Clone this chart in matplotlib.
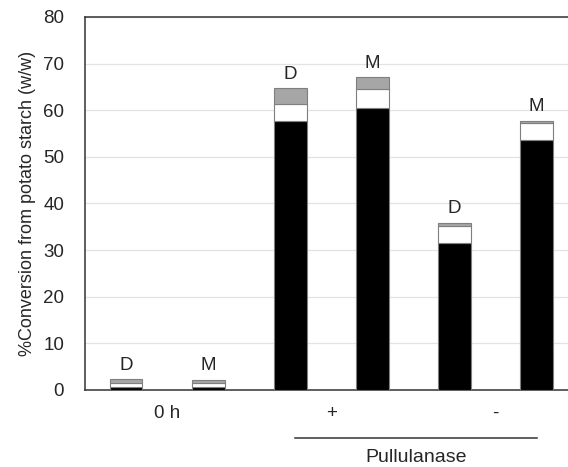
import matplotlib.pyplot as plt
import numpy as np
from matplotlib.transforms import blended_transform_factory

plt.rcParams["font.family"] = ["Liberation Sans", "DejaVu Sans"]

bar_labels = ["D", "M", "D", "M", "D", "M"]
group_labels = ["0 h", "+", "-"]
black_part = [0.7, 0.7, 57.8, 60.4, 31.6, 53.6]
white_part = [0.8, 0.8, 3.5, 4.1, 3.6, 3.6]
gray_part = [0.8, 0.7, 3.4, 2.6, 0.7, 0.6]

INK = "#262626"
EDGE = "#7f7f7f"
FS = 13.5

fig = plt.figure(figsize=(5.68, 4.67), dpi=100)
ax = fig.add_axes([0.1496, 0.1649, 0.867, 0.7987])

x = np.arange(len(bar_labels))
black = np.array(black_part)
white = np.array(white_part)
gray = np.array(gray_part)
width = 0.4
ax.bar(x, black, width, color="black", edgecolor=EDGE, linewidth=0.8, zorder=3)
ax.bar(x, white, width, bottom=black, color="white", edgecolor=EDGE, linewidth=0.8, zorder=3)
ax.bar(x, gray, width, bottom=black + white, color="#a6a6a6", edgecolor=EDGE,
       linewidth=0.8, zorder=3)
for xi, top, label in zip(x, black + white + gray, bar_labels):
    ax.text(xi, top + 1.2, label, ha="center", va="bottom", fontsize=FS, color=INK)

ax.set_xlim(-0.5, 5.5)
ax.set_ylim(0, 80)
ax.set_yticks(range(0, 81, 10))
ax.set_xticks([])
ax.tick_params(axis="y", length=0, labelsize=FS, pad=15, colors=INK)
ax.grid(axis="y", color="#e3e3e3", linewidth=0.9, zorder=0)
for spine in ax.spines.values():
    spine.set_color("#333333")
    spine.set_linewidth(1.1)
ax.set_ylabel("%Conversion from potato starch (w/w)", fontsize=13, color=INK, labelpad=5)

trans = blended_transform_factory(ax.transData, ax.transAxes)
for i, label in enumerate(group_labels):
    ax.text(2 * i + 0.5, -0.062, label, transform=trans, ha="center", va="center",
            fontsize=FS, color=INK)
ax.plot([2.06, 5.01], [-0.129, -0.129], transform=trans, color="#333333",
        linewidth=1.1, clip_on=False)
ax.text(3.53, -0.182, "Pullulanase", transform=trans, ha="center", va="center",
        fontsize=14, color=INK)

fig.savefig("out.png", dpi=100, facecolor="white")
